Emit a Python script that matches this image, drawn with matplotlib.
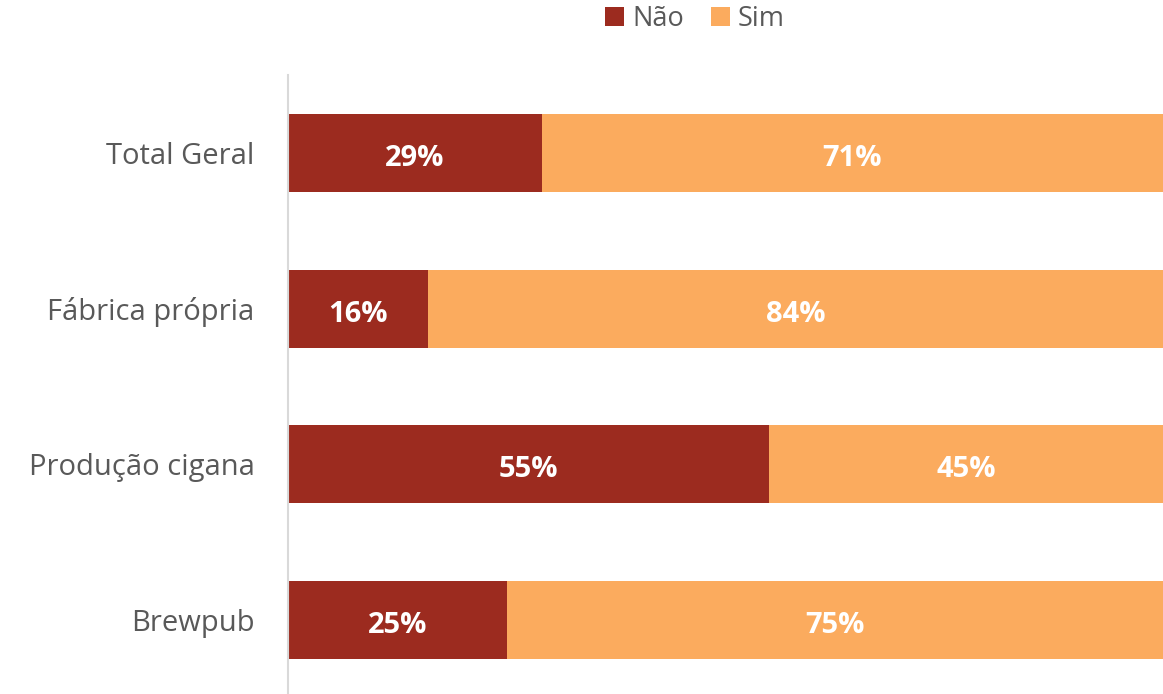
import matplotlib
matplotlib.use("Agg")
import matplotlib.pyplot as plt

categories = ["Total Geral", "Fábrica própria", "Produção cigana", "Brewpub"]
nao = [29, 16, 55, 25]
sim = [71, 84, 45, 75]
series_names = ["Não", "Sim"]
colors = ["#9C2B1F", "#FBAB5E"]

plt.rcParams['font.family'] = ['Open Sans', 'DejaVu Sans']

fig = plt.figure(figsize=(11.63, 6.94), dpi=100)
ax = fig.add_axes([288/1163, -4/694, 1 - 288/1163, 623/694])

y = list(range(len(categories)))
b1 = ax.barh(y, nao, height=0.5, color=colors[0], label=series_names[0])
b2 = ax.barh(y, sim, left=nao, height=0.5, color=colors[1], label=series_names[1])
for bars, vals in ((b1, nao), (b2, sim)):
    for bar, v in zip(bars, vals):
        ax.text(bar.get_x() + bar.get_width() / 2, bar.get_y() + bar.get_height() / 2 + 0.035,
                f"{v}%", ha='center', va='center', color='white', fontsize=21, fontweight='bold')

ax.set_xlim(0, 100)
ax.set_ylim(3.5, -0.5)
ax.set_yticks(y)
ax.set_yticklabels(categories, fontsize=21, color='#595959')
ax.tick_params(axis='y', length=0, pad=24)
ax.set_xticks([])
for s in ['top', 'right', 'bottom']:
    ax.spines[s].set_visible(False)
ax.spines['left'].set_color('#D9D9D9')
ax.spines['left'].set_linewidth(1.5)

fig.legend(handles=[b1, b2], labels=series_names, loc='center', bbox_to_anchor=(695/1163, 1 - 19/694),
           ncol=2, frameon=False, fontsize=19.5, labelcolor='#595959', handlelength=0.7,
           handleheight=0.7, handletextpad=0.3, columnspacing=1.0)

fig.savefig("out.png", dpi=100)
